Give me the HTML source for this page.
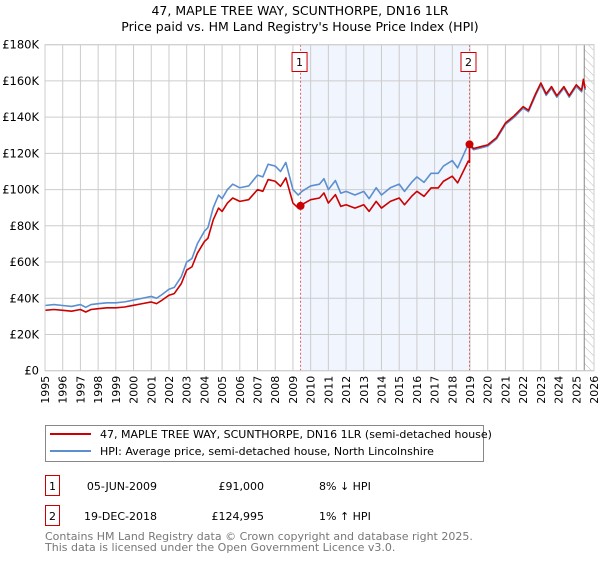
<!DOCTYPE html>
<html><head><meta charset="utf-8"><style>
body{margin:0;background:#fff;font-family:"DejaVu Sans","Liberation Sans",sans-serif;}
svg text{font-family:"DejaVu Sans","Liberation Sans",sans-serif;}
</style></head><body>
<svg id="chart" width="600" height="560" viewBox="0 0 600 560" xmlns="http://www.w3.org/2000/svg">
<text x="300" y="15" text-anchor="middle" font-size="12.5">47, MAPLE TREE WAY, SCUNTHORPE, DN16 1LR</text>
<text x="300" y="31" text-anchor="middle" font-size="12.5">Price paid vs. HM Land Registry's House Price Index (HPI)</text>
<g id="plot"></g>
<rect x="45.5" y="425.5" width="438" height="36" fill="#fff" stroke="#888"/>
<line x1="50" y1="434" x2="91" y2="434" stroke="#cc0000" stroke-width="2"/>
<text x="100" y="438" font-size="11">47, MAPLE TREE WAY, SCUNTHORPE, DN16 1LR (semi-detached house)</text>
<line x1="50" y1="451" x2="91" y2="451" stroke="#5b8fd0" stroke-width="2"/>
<text x="100" y="455" font-size="11">HPI: Average price, semi-detached house, North Lincolnshire</text>
<rect x="45.5" y="475.5" width="14" height="20" fill="none" stroke="#cc0000"/>
<text x="52.5" y="490" text-anchor="middle" font-size="11">1</text>
<text x="157" y="490" text-anchor="end" font-size="11">05-JUN-2009</text>
<text x="264" y="490" text-anchor="end" font-size="11">£91,000</text>
<text x="319" y="490" font-size="11">8% ↓ HPI</text>
<rect x="45.5" y="505.5" width="14" height="20" fill="none" stroke="#cc0000"/>
<text x="52.5" y="520" text-anchor="middle" font-size="11">2</text>
<text x="157" y="520" text-anchor="end" font-size="11">19-DEC-2018</text>
<text x="264" y="520" text-anchor="end" font-size="11">£124,995</text>
<text x="319" y="520" font-size="11">1% ↑ HPI</text>
<text x="45" y="540" font-size="11" fill="#777">Contains HM Land Registry data © Crown copyright and database right 2025.</text>
<text x="45" y="551" font-size="11" fill="#777">This data is licensed under the Open Government Licence v3.0.</text>
</svg>
<script>
const yTicks=[0,20,40,60,80,100,120,140,160,180];
const yTickLabels=["£0","£20K","£40K","£60K","£80K","£100K","£120K","£140K","£160K","£180K"];
const years=[1995,1996,1997,1998,1999,2000,2001,2002,2003,2004,2005,2006,2007,2008,2009,2010,2011,2012,2013,2014,2015,2016,2017,2018,2019,2020,2021,2022,2023,2024,2025,2026];
const hpiT=[1995,1995.5,1996,1996.5,1997,1997.3,1997.6,1998,1998.5,1999,1999.5,2000,2000.5,2001,2001.3,2001.6,2002,2002.3,2002.7,2003,2003.3,2003.6,2004,2004.2,2004.5,2004.8,2005,2005.3,2005.6,2006,2006.5,2007,2007.3,2007.6,2008,2008.3,2008.6,2009,2009.3,2009.5,2010,2010.5,2010.75,2011,2011.4,2011.7,2012,2012.5,2013,2013.3,2013.7,2014,2014.5,2015,2015.3,2015.7,2016,2016.4,2016.8,2017.2,2017.5,2018,2018.3,2018.9,2019.2,2019.6,2020,2020.5,2021,2021.5,2022,2022.3,2022.7,2023,2023.3,2023.6,2023.9,2024.3,2024.6,2025,2025.3,2025.4,2025.5];
const hpiV=[36,36.5,36,35.5,36.5,35,36.5,37,37.5,37.5,38,39,40,41,40,42,45,46,52,60,62,70,77,79,90,97,95,100,103,101,102,108,107,114,113,110,115,100,97,99,102,103,106,100,105,98,99,97,99,95,101,97,101,103,99,104,107,104,109,109,113,116,112,125,122,123,124,128,136,140,145,143,152,158,152,156,151,156,151,157,154,160,155];
const saleT=[2009.43,2018.97];
const saleV=[91,124.995];
const NS="http://www.w3.org/2000/svg";
const X0=45,X1=594,Y0=370.7,Y1=44.7;
const xs=t=>X0+(t-1995)/(2026-1995)*(X1-X0);
const ys=v=>Y0-(v/180)*(Y0-Y1);
const g=document.getElementById('plot');
function mk(tag,attrs){const e=document.createElementNS(NS,tag);for(const k in attrs)e.setAttribute(k,attrs[k]);g.appendChild(e);return e;}
function hpiAt(t){for(let i=1;i<hpiT.length;i++){if(t<=hpiT[i]){const f=(t-hpiT[i-1])/(hpiT[i]-hpiT[i-1]);return hpiV[i-1]+f*(hpiV[i]-hpiV[i-1]);}}return hpiV[hpiV.length-1];}
// shaded region
let sh=mk('rect',{x:xs(saleT[0]),y:Y1,width:xs(saleT[1])-xs(saleT[0]),height:Y0-Y1,fill:'#eef3fd',opacity:0.8});


// hatch
const defs=mk('defs',{});
const pat=document.createElementNS(NS,'pattern');pat.setAttribute('id','hatch');pat.setAttribute('width','6');pat.setAttribute('height','6');pat.setAttribute('patternUnits','userSpaceOnUse');pat.setAttribute('patternTransform','rotate(-45)');
const pl=document.createElementNS(NS,'line');pl.setAttribute('x1','0');pl.setAttribute('y1','0');pl.setAttribute('x2','0');pl.setAttribute('y2','6');pl.setAttribute('stroke','#bbb');pat.appendChild(pl);defs.appendChild(pat);
let hz=mk('rect',{x:xs(2025.45),y:Y1,width:X1-xs(2025.45),height:Y0-Y1,fill:'url(#hatch)'});


// grid
years.forEach((yr,i)=>{const x=xs(yr);
 let l=mk('line',{x1:x,y1:Y1,x2:x,y2:Y0,stroke:'#ccc'});
 
 
 let t=mk('text',{x:0,y:0,'font-size':11,'text-anchor':'end',transform:`translate(${x+4},${Y0+5}) rotate(-90)`});
 t.textContent=yr;
 
 });
yTicks.forEach((v,i)=>{const y=ys(v);
 let l=mk('line',{x1:X0,y1:y,x2:X1,y2:y,stroke:'#ccc'});
 
 
 let t=mk('text',{x:X0-6,y:y+4,'font-size':11.5,'text-anchor':'end'});
 t.textContent=yTickLabels[i];
 
 });
let vl=mk('line',{x1:xs(2025.45),y1:Y1,x2:xs(2025.45),y2:Y0,stroke:'#888'});


// sale markers lines
saleT.forEach((t,i)=>{const x=xs(t);
 let l=mk('line',{x1:x,y1:Y1,x2:x,y2:Y0,stroke:'#e06060','stroke-dasharray':'2,2'});
 
 
 let b=mk('rect',{x:x-8.5,y:52.5,width:15,height:19,fill:'#fff',stroke:'#cc0000'});
 
 
 let tx=mk('text',{x:x-1,y:66,'font-size':11,'text-anchor':'middle'});
 tx.textContent=String(i+1);
 
 });
// HPI line
const hp=hpiT.map((t,i)=>xs(t)+','+ys(hpiV[i])).join(' ');
let h=mk('polyline',{points:hp,fill:'none',stroke:'#5b8fd0','stroke-width':1.6,'stroke-linejoin':'round'});


// property line: HPI scaled from latest sale
const r1=saleV[0]/hpiAt(saleT[0]),r2=saleV[1]/hpiAt(saleT[1]);
const pts=[];
hpiT.forEach((t,i)=>{if(t<saleT[1])pts.push([t,hpiV[i]*r1]);});
pts.push([saleT[1],hpiAt(saleT[1])*r1]);
pts.push([saleT[1],saleV[1]]);
hpiT.forEach((t,i)=>{if(t>saleT[1])pts.push([t,hpiV[i]*r2]);});
let p=mk('polyline',{points:pts.map(q=>xs(q[0])+','+ys(q[1])).join(' '),fill:'none',stroke:'#cc0000','stroke-width':1.6,'stroke-linejoin':'round'});


saleT.forEach((t,i)=>{let c=mk('circle',{cx:xs(t),cy:ys(saleV[i]),r:4,fill:'#cc0000'});
 
 });
let fr=mk('rect',{x:X0,y:Y1,width:X1-X0,height:Y0-Y1,fill:'none',stroke:'#ccc'});


</script>
</body></html>
